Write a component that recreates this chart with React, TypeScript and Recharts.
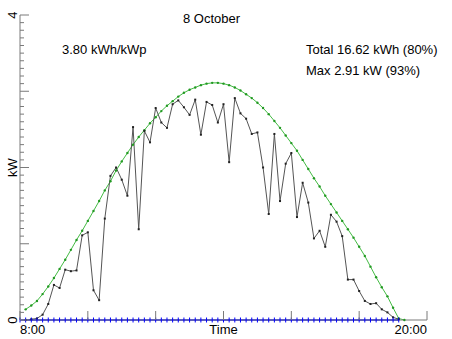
import React from 'react';
import { Line, LineChart, XAxis, YAxis } from 'recharts';

// 10-minute slots, minutes since midnight (8:00 .. 19:20)
const slotMinutes = [
  480, 490, 500, 510, 520, 530, 540, 550, 560, 570, 580, 590,
  600, 610, 620, 630, 640, 650, 660, 670, 680, 690, 700, 710,
  720, 730, 740, 750, 760, 770, 780, 790, 800, 810, 820, 830,
  840, 850, 860, 870, 880, 890, 900, 910, 920, 930, 940, 950,
  960, 970, 980, 990, 1000, 1010, 1020, 1030, 1040, 1050, 1060, 1070,
  1080, 1090, 1100, 1110, 1120, 1130, 1140, 1150, 1160,
];

// measured output (kW)
const actualKw = [
  null, 0.0, 0.01, 0.02, 0.07, 0.21, 0.46, 0.42, 0.66, 0.64, 0.65, 1.11,
  1.15, 0.39, 0.26, 1.33, 1.89, 2.0, 1.84, 1.63, 2.53, 1.19, 2.48, 2.33,
  2.78, 2.59, 2.52, 2.83, 2.88, 2.79, 2.69, 2.89, 2.43, 2.86, 2.82, 2.59,
  2.83, 2.07, 2.91, 2.71, 2.64, 2.44, 2.46, 2.0, 1.39, 2.44, 1.56, 2.05,
  2.19, 1.35, 1.8, 1.54, 1.07, 1.17, 0.96, 1.38, 1.29, 1.1, 0.53, 0.53,
  0.38, 0.25, 0.21, 0.22, 0.14, 0.1, 0.035, 0.01, null,
];

// clear-sky reference (kW)
const clearSkyKw = [
  null, 0.14, 0.19, 0.25, 0.34, 0.44, 0.55, 0.67, 0.79, 0.92, 1.05, 1.17,
  1.3, 1.43, 1.56, 1.7, 1.82, 1.96, 2.08, 2.19, 2.3, 2.4, 2.49, 2.58,
  2.66, 2.74, 2.81, 2.87, 2.93, 2.98, 3.02, 3.05, 3.08, 3.1, 3.11, 3.11,
  3.1, 3.08, 3.05, 3.01, 2.96, 2.91, 2.85, 2.78, 2.7, 2.61, 2.52, 2.42,
  2.32, 2.22, 2.1, 1.98, 1.86, 1.75, 1.63, 1.52, 1.41, 1.3, 1.19, 1.08,
  0.96, 0.84, 0.7, 0.56, 0.43, 0.31, 0.16, 0.02, 0.0,
];

// zero line
const baselineKw = [
  0, 0, 0, 0, 0, 0, 0, 0, 0, 0, 0, 0,
  0, 0, 0, 0, 0, 0, 0, 0, 0, 0, 0, 0,
  0, 0, 0, 0, 0, 0, 0, 0, 0, 0, 0, 0,
  0, 0, 0, 0, 0, 0, 0, 0, 0, 0, 0, 0,
  0, 0, 0, 0, 0, 0, 0, 0, 0, 0, 0, 0,
  0, 0, 0, 0, 0, 0, 0, 0, null,
];

const xTicks = [480, 600, 720, 840, 960, 1080, 1200];
const xTickLabels: Record<number, string> = { 480: '8:00', 840: 'Time', 1200: '20:00' };
const yTicks = Array.from({ length: 41 }, (_, k) => k / 10);
const yTickLabels: Record<number, string> = { 0: '0', 2: 'kW', 4: '4' };

const FONT = '"Liberation Sans", Arial, Helvetica, sans-serif';
const AXIS = '#7a7a7a';
const PLOT_LEFT = 20;
const PLOT_BOTTOM = 320;

const data = slotMinutes.map((minute, i) => ({
  minute,
  actual: actualKw[i],
  clear: clearSkyKw[i],
  base: baselineKw[i],
}));

const YTick = (props: any) => {
  const { y, payload } = props;
  const step = Math.round(payload.value * 10);
  const major = step % 10 === 0;
  const label = major ? yTickLabels[step / 10] : undefined;
  return (
    <g>
      <line x1={PLOT_LEFT} x2={PLOT_LEFT + (major ? 9 : 4)} y1={y} y2={y} stroke={AXIS} strokeWidth={1} />
      {label && (
        <text
          x={17}
          y={y}
          textAnchor="middle"
          fontSize={13}
          fontFamily={FONT}
          fill="#000"
          transform={`rotate(-90, 17, ${y})`}
        >
          {label}
        </text>
      )}
    </g>
  );
};

const XTick = (props: any) => {
  const { x, payload } = props;
  const label = xTickLabels[payload.value];
  const anchor = payload.value === 480 ? 'start' : payload.value === 1200 ? 'end' : 'middle';
  return (
    <g>
      <line x1={x} x2={x} y1={PLOT_BOTTOM} y2={PLOT_BOTTOM - 9} stroke={AXIS} strokeWidth={1} />
      {label && (
        <text x={x} y={334} textAnchor={anchor} fontSize={13} fontFamily={FONT} fill="#000">
          {label}
        </text>
      )}
    </g>
  );
};

const SquareDot = (props: any) => {
  const { cx, cy, index } = props;
  if (cx == null || cy == null || props.value == null) return <g key={`a-${index}`} />;
  return <rect key={`a-${index}`} x={cx - 1} y={cy - 1} width={2} height={2} fill="#222" />;
};

const GreenDot = (props: any) => {
  const { cx, cy, index } = props;
  if (cx == null || cy == null || props.value == null) return <g key={`c-${index}`} />;
  return <circle key={`c-${index}`} cx={cx} cy={cy} r={1.2} fill="#229922" />;
};

const PlusDot = (props: any) => {
  const { cx, cy, index } = props;
  if (cx == null || cy == null || props.value == null) return <g key={`b-${index}`} />;
  return (
    <line key={`b-${index}`} x1={cx} x2={cx} y1={cy - 2.5} y2={cy + 2.5} stroke="#0000ff" strokeWidth={1} />
  );
};

export default function App() {
  return (
    <div style={{ position: 'fixed', left: 0, top: 0, width: 452, height: 339, background: '#fff' }}>
      <LineChart width={452} height={339} data={data} margin={{ top: 15, right: 25, bottom: 0, left: 0 }}>
        <XAxis
          dataKey="minute"
          type="number"
          domain={[480, 1200]}
          ticks={xTicks}
          interval={0}
          height={19}
          axisLine={{ stroke: AXIS }}
          tickLine={false}
          tick={<XTick />}
        />
        <YAxis
          type="number"
          domain={[0, 4]}
          ticks={yTicks}
          interval={0}
          width={20}
          axisLine={{ stroke: AXIS }}
          tickLine={false}
          tick={<YTick />}
        />
        <Line
          dataKey="clear"
          type="linear"
          stroke="#44bb44"
          strokeWidth={1}
          dot={<GreenDot />}
          activeDot={false}
          isAnimationActive={false}
        />
        <Line
          dataKey="actual"
          type="linear"
          stroke="#555"
          strokeWidth={1}
          dot={<SquareDot />}
          activeDot={false}
          isAnimationActive={false}
        />
        <Line
          dataKey="base"
          type="linear"
          stroke="#0000ff"
          strokeWidth={1.5}
          dot={<PlusDot />}
          activeDot={false}
          isAnimationActive={false}
        />
      </LineChart>
      <svg
        width={452}
        height={339}
        style={{ position: 'absolute', left: 0, top: 0, pointerEvents: 'none' }}
        fontFamily={FONT}
        fontSize={13}
      >
        <text x={183} y={23} fill="#000">8 October</text>
        <text x={62} y={54} fill="#000">3.80 kWh/kWp</text>
        <text x={306} y={54} fill="#000">Total 16.62 kWh (80%)</text>
        <text x={306} y={75} fill="#000">Max 2.91 kW (93%)</text>
      </svg>
    </div>
  );
}
